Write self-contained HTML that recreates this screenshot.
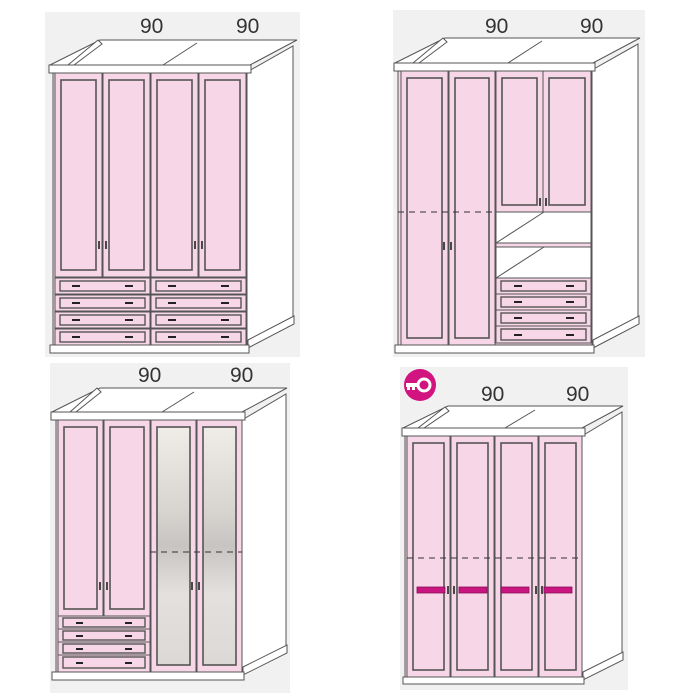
<!DOCTYPE html>
<html><head><meta charset="utf-8"><style>
html,body{margin:0;padding:0;background:#fff;width:700px;height:700px;overflow:hidden}
svg{display:block}
text{font-family:"Liberation Sans",sans-serif;font-size:21px;fill:#333}
</style></head><body>
<svg width="700" height="700" viewBox="0 0 700 700" xmlns="http://www.w3.org/2000/svg">
<defs>
<linearGradient id="mir" x1="0" y1="0" x2="0" y2="1">
<stop offset="0" stop-color="#f0ece8"/><stop offset="0.35" stop-color="#d8d4d0"/><stop offset="0.5" stop-color="#c8c4c2"/><stop offset="0.7" stop-color="#e4e0de"/><stop offset="1" stop-color="#dcd8d6"/>
</linearGradient>
</defs>
<g stroke="#555" stroke-width="1">
<!-- backgrounds -->
<rect x="45" y="12" width="255" height="345" fill="#f1f1f1" stroke="none"/>
<rect x="393" y="10" width="252" height="347" fill="#f1f1f1" stroke="none"/>
<rect x="50" y="363" width="240" height="330" fill="#f1f1f1" stroke="none"/>
<rect x="400" y="367" width="228" height="323" fill="#f1f1f1" stroke="none"/>

<!-- ===== Panel 1 ===== -->
<polygon points="50,65 100,40 297,40 250,65" fill="#fff"/>
<line x1="163" y1="65" x2="197" y2="43"/>
<polygon points="68,65 98,40 102,44 74,65" fill="#fff"/>
<polygon points="247,72 293,46 293,320 247,345" fill="#fff"/>
<polygon points="248,340 294,316 294,324 248,348" fill="#fff"/>
<rect x="49" y="65" width="202" height="8" fill="#fff"/>
<rect x="53" y="73" width="194" height="272" fill="#f6d6e7"/>
<g fill="#f6d6e7">
<rect x="55" y="73" width="47" height="204"/><rect x="61" y="80" width="35" height="190" stroke-width="1.6"/>
<rect x="103" y="73" width="47" height="204"/><rect x="109" y="80" width="35" height="190" stroke-width="1.6"/>
<rect x="151" y="73" width="47" height="204"/><rect x="157" y="80" width="35" height="190" stroke-width="1.6"/>
<rect x="199" y="73" width="47" height="204"/><rect x="205" y="80" width="35" height="190" stroke-width="1.6"/>
</g>
<g stroke="#222" stroke-width="1.6">
<line x1="99" y1="241" x2="99" y2="249"/><line x1="106" y1="241" x2="106" y2="249"/>
<line x1="195" y1="241" x2="195" y2="249"/><line x1="202" y1="241" x2="202" y2="249"/>
</g>
<g fill="#f6d6e7">
<rect x="55" y="278" width="95" height="16"/><rect x="60" y="281" width="85" height="10" stroke-width="1.4"/>
<rect x="55" y="295" width="95" height="16"/><rect x="60" y="298" width="85" height="10" stroke-width="1.4"/>
<rect x="55" y="312" width="95" height="16"/><rect x="60" y="315" width="85" height="10" stroke-width="1.4"/>
<rect x="55" y="329" width="95" height="16"/><rect x="60" y="332" width="85" height="10" stroke-width="1.4"/>
<rect x="151" y="278" width="95" height="16"/><rect x="156" y="281" width="85" height="10" stroke-width="1.4"/>
<rect x="151" y="295" width="95" height="16"/><rect x="156" y="298" width="85" height="10" stroke-width="1.4"/>
<rect x="151" y="312" width="95" height="16"/><rect x="156" y="315" width="85" height="10" stroke-width="1.4"/>
<rect x="151" y="329" width="95" height="16"/><rect x="156" y="332" width="85" height="10" stroke-width="1.4"/>
</g>
<g stroke="#222" stroke-width="2">
<path d="M72 286h8M125 286h8M72 303h8M125 303h8M72 320h8M125 320h8M72 337h8M125 337h8M168 286h8M221 286h8M168 303h8M221 303h8M168 320h8M221 320h8M168 337h8M221 337h8"/>
</g>
<rect x="50" y="345" width="199" height="8" fill="#fff"/>

<!-- ===== Panel 2 ===== -->
<polygon points="395,63 445,38 640,38 593,63" fill="#fff"/>
<line x1="508" y1="63" x2="542" y2="41"/>
<polygon points="413,63 443,38 447,42 419,63" fill="#fff"/>
<polygon points="592,70 638,44 638,320 592,345" fill="#fff"/>
<polygon points="593,340 639,316 639,324 593,348" fill="#fff"/>
<rect x="394" y="63" width="201" height="8" fill="#fff"/>
<rect x="398" y="71" width="194" height="274" fill="#f6d6e7"/>
<g fill="#f6d6e7">
<rect x="401" y="71" width="47" height="274"/><rect x="407" y="78" width="35" height="260" stroke-width="1.6"/>
<rect x="449" y="71" width="46" height="274"/><rect x="455" y="78" width="34" height="260" stroke-width="1.6"/>
<rect x="496" y="71" width="47" height="141"/><rect x="502" y="78" width="35" height="127" stroke-width="1.6"/>
<rect x="543" y="71" width="48" height="141"/><rect x="549" y="78" width="36" height="127" stroke-width="1.6"/>
</g>
<rect x="496" y="212" width="95" height="31" fill="#fff"/>
<line x1="496" y1="243" x2="544" y2="212"/>
<rect x="496" y="243" width="95" height="4" fill="#f6d6e7"/>
<rect x="496" y="247" width="95" height="31" fill="#fff"/>
<line x1="496" y1="278" x2="544" y2="247"/>
<line x1="398" y1="212" x2="496" y2="212" stroke="#333" stroke-dasharray="6,5"/>
<g stroke="#222" stroke-width="1.6">
<line x1="444" y1="242" x2="444" y2="250"/><line x1="451" y1="242" x2="451" y2="250"/>
<line x1="540" y1="198" x2="540" y2="206"/><line x1="546" y1="198" x2="546" y2="206"/>
</g>
<g fill="#f6d6e7">
<rect x="496" y="278" width="95" height="16"/><rect x="501" y="281" width="85" height="10" stroke-width="1.4"/>
<rect x="496" y="294" width="95" height="16"/><rect x="501" y="297" width="85" height="10" stroke-width="1.4"/>
<rect x="496" y="310" width="95" height="16"/><rect x="501" y="313" width="85" height="10" stroke-width="1.4"/>
<rect x="496" y="326" width="95" height="17"/><rect x="501" y="329" width="85" height="11" stroke-width="1.4"/>
</g>
<g stroke="#222" stroke-width="2">
<path d="M514 286h8M566 286h8M514 302h8M566 302h8M514 318h8M566 318h8M514 335h8M566 335h8"/>
</g>
<rect x="395" y="345" width="199" height="8" fill="#fff"/>

<!-- ===== Panel 3 ===== -->
<polygon points="52,412 100,388 287,388 242,412" fill="#fff"/>
<line x1="162" y1="412" x2="194" y2="392"/>
<polygon points="70,412 97,388 101,392 76,412" fill="#fff"/>
<polygon points="242,420 286,394 286,650 242,672" fill="#fff"/>
<polygon points="243,667 287,645 287,653 243,675" fill="#fff"/>
<rect x="51" y="412" width="194" height="8" fill="#fff"/>
<rect x="56" y="420" width="186" height="252" fill="#f6d6e7"/>
<g fill="#f6d6e7">
<rect x="58" y="420" width="45" height="196"/><rect x="64" y="427" width="33" height="182" stroke-width="1.6"/>
<rect x="104" y="420" width="46" height="196"/><rect x="110" y="427" width="34" height="182" stroke-width="1.6"/>
<rect x="151" y="420" width="45" height="252"/>
<rect x="197" y="420" width="45" height="252"/>
</g>
<rect x="157" y="427" width="33" height="238" fill="url(#mir)" stroke-width="1.6"/>
<rect x="203" y="427" width="33" height="238" fill="url(#mir)" stroke-width="1.6"/>
<line x1="150" y1="552" x2="242" y2="552" stroke="#333" stroke-dasharray="6,5"/>
<g stroke="#222" stroke-width="1.6">
<line x1="100" y1="582" x2="100" y2="590"/><line x1="107" y1="582" x2="107" y2="590"/>
<line x1="192" y1="582" x2="192" y2="590"/><line x1="199" y1="582" x2="199" y2="590"/>
</g>
<g fill="#f6d6e7">
<rect x="58" y="616" width="92" height="13"/><rect x="63" y="618" width="82" height="9" stroke-width="1.4"/>
<rect x="58" y="629" width="92" height="13"/><rect x="63" y="631" width="82" height="9" stroke-width="1.4"/>
<rect x="58" y="642" width="92" height="13"/><rect x="63" y="644" width="82" height="9" stroke-width="1.4"/>
<rect x="58" y="655" width="92" height="17"/><rect x="63" y="657" width="82" height="11" stroke-width="1.4"/>
</g>
<g stroke="#222" stroke-width="2">
<path d="M76 623h7M125 623h7M76 636h7M125 636h7M76 649h7M125 649h7M76 663h7M125 663h7"/>
</g>
<rect x="52" y="672" width="192" height="8" fill="#fff"/>

<!-- ===== Panel 4 ===== -->
<polygon points="403,428 448,406 623,406 582,428" fill="#fff"/>
<line x1="505" y1="428" x2="535" y2="410"/>
<polygon points="418,428 445,407 449,411 424,428" fill="#fff"/>
<polygon points="582,436 622,412 622,656 582,677" fill="#fff"/>
<polygon points="583,672 623,652 623,660 583,680" fill="#fff"/>
<rect x="402" y="428" width="183" height="8" fill="#fff"/>
<rect x="405" y="436" width="177" height="241" fill="#f6d6e7"/>
<g fill="#f6d6e7">
<rect x="407" y="436" width="43" height="241"/><rect x="413" y="443" width="31" height="227" stroke-width="1.6"/>
<rect x="451" y="436" width="43" height="241"/><rect x="457" y="443" width="31" height="227" stroke-width="1.6"/>
<rect x="495" y="436" width="43" height="241"/><rect x="501" y="443" width="31" height="227" stroke-width="1.6"/>
<rect x="539" y="436" width="43" height="241"/><rect x="545" y="443" width="31" height="227" stroke-width="1.6"/>
</g>
<line x1="407" y1="558" x2="582" y2="558" stroke="#333" stroke-dasharray="6,5"/>
<g fill="#c8157f" stroke="#8a0f58" stroke-width="0.8">
<rect x="417" y="587" width="28" height="6"/><rect x="459" y="587" width="28" height="6"/>
<rect x="501" y="587" width="28" height="6"/><rect x="544" y="587" width="28" height="6"/>
</g>
<g stroke="#222" stroke-width="1.6">
<line x1="448" y1="586" x2="448" y2="594"/><line x1="454" y1="586" x2="454" y2="594"/>
<line x1="536" y1="586" x2="536" y2="594"/><line x1="542" y1="586" x2="542" y2="594"/>
</g>
<rect x="403" y="677" width="181" height="7" fill="#fff"/>
</g>

<!-- key icon -->
<circle cx="420" cy="385" r="16" fill="#d1147f"/>
<rect x="406" y="383" width="12" height="4" fill="#fff"/>
<rect x="407" y="386" width="3" height="4" fill="#fff"/>
<rect x="412" y="386" width="3" height="4" fill="#fff"/>
<circle cx="424" cy="385" r="6" fill="none" stroke="#fff" stroke-width="3"/>

<!-- labels -->
<text x="140" y="33">90</text><text x="236" y="33">90</text>
<text x="485" y="33">90</text><text x="580" y="33">90</text>
<text x="138" y="382">90</text><text x="230" y="382">90</text>
<text x="481" y="401">90</text><text x="566" y="401">90</text>
</svg>
</body></html>
